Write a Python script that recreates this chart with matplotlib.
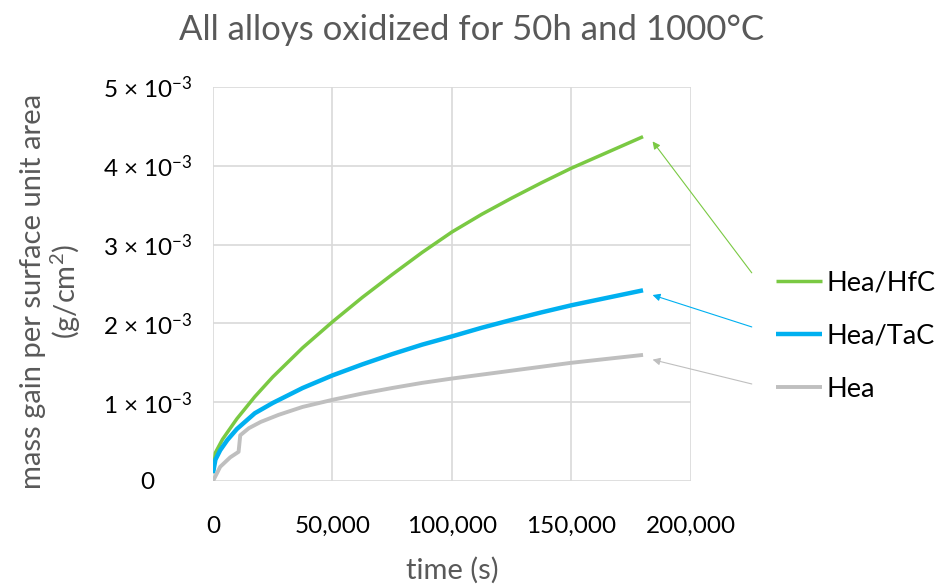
import matplotlib
matplotlib.use("Agg")
import matplotlib.pyplot as plt

plt.rcParams['font.family'] = ['Lato', 'DejaVu Sans']
plt.rcParams['mathtext.fontset'] = 'custom'
plt.rcParams['mathtext.rm'] = 'Lato'
plt.rcParams['mathtext.it'] = 'Lato:italic'

# time in seconds, mass gain in g/cm^2 (values x 1e-3)
t_hfc = [0, 1000, 4000, 10000, 17500, 25000, 37500, 50000, 62500, 75000, 87500,
         100000, 112500, 125000, 137500, 150000, 165000, 180000]
hfc = [0.10, 0.36, 0.53, 0.79, 1.07, 1.32, 1.69, 2.02, 2.33, 2.62, 2.90,
       3.16, 3.385, 3.59, 3.785, 3.97, 4.17, 4.37]

t_tac = [0, 1000, 3000, 6000, 10000, 17500, 25000, 37500, 50000, 62500, 75000, 87500,
         100000, 112500, 125000, 137500, 150000, 165000, 180000]
tac = [0.10, 0.27, 0.39, 0.52, 0.66, 0.86, 0.99, 1.18, 1.34, 1.48, 1.61, 1.73,
       1.835, 1.945, 2.045, 2.14, 2.23, 2.325, 2.42]

t_hea = [0, 3000, 7200, 10700, 11400, 15000, 20000, 27500, 37500, 50000, 62500, 75000,
         87500, 100000, 125000, 150000, 165000, 180000]
hea = [0.00, 0.18, 0.30, 0.37, 0.58, 0.67, 0.75, 0.84, 0.94, 1.03, 1.11, 1.18,
       1.245, 1.30, 1.40, 1.50, 1.55, 1.60]

series = [
    ("Hea/HfC", t_hfc, hfc, "#7AC943", 2.5),
    ("Hea/TaC", t_tac, tac, "#00B0F0", 3.2),
    ("Hea", t_hea, hea, "#BFBFBF", 2.8),
]
arrow_tails = [0.536, 0.444, 0.347]

x_ticks = [0, 50000, 100000, 150000, 200000]
x_labels = ["0", "50,000", "100,000", "150,000", "200,000"]
y_ticks = [0, 1, 2, 3, 4, 5]
y_labels = ["0"] + [f"{k} × 10$^{{-3}}$" for k in y_ticks[1:]]

fig = plt.figure(figsize=(9.48, 5.88), dpi=100)
ax = fig.add_axes([0.2247, 0.182, 0.504, 0.670])

handles = []
for (name, t, v, c, lw), ty in zip(series, arrow_tails):
    y = [val * 1e-3 for val in v]
    h, = ax.plot(t, y, color=c, lw=lw, label=name, solid_capstyle='butt',
                 solid_joinstyle='round')
    handles.append(h)
    ax.annotate("", xy=(t[-1] + 4000, y[-1] - 0.06e-3), xycoords='data',
                xytext=(0.793, ty), textcoords='figure fraction',
                arrowprops=dict(arrowstyle='-|>', color=c, lw=0.8,
                                mutation_scale=11, shrinkA=0, shrinkB=0))

ax.set_xlim(0, 200000)
ax.set_ylim(0, 5e-3)
ax.set_xticks(x_ticks)
ax.set_xticklabels(x_labels)
ax.set_yticks([k * 1e-3 for k in y_ticks])
ax.set_yticklabels(y_labels)
ax.tick_params(length=0, labelsize=17.5, colors='#000000')
ax.tick_params(axis='x', pad=25)
ax.tick_params(axis='y', pad=47)
for lab in ax.get_yticklabels():
    lab.set_horizontalalignment('center')
for s in ax.spines.values():
    s.set_visible(False)
ax.grid(True, color='#D9D9D9', lw=1.2)
ax.set_axisbelow(True)

fig.text(0.477, 0.030, "time (s)", ha='center', va='center', fontsize=21, color='#595959')
fig.text(0.054, 0.505, "mass gain per surface unit area\n(g/cm$^2$)", rotation=90,
         ha='center', va='center', fontsize=21, color='#595959', linespacing=1.1)
fig.text(0.497, 0.949, "All alloys oxidized for 50h and 1000°C", ha='center', va='center',
         fontsize=25, color='#595959')

leg = fig.legend(handles=handles, loc='center left', bbox_to_anchor=(0.8186, 0.428),
                 frameon=False, fontsize=19.5, handlelength=1.7, handletextpad=0.15,
                 labelspacing=1.03, borderaxespad=0, borderpad=0)

fig.savefig("out.png", dpi=100)
